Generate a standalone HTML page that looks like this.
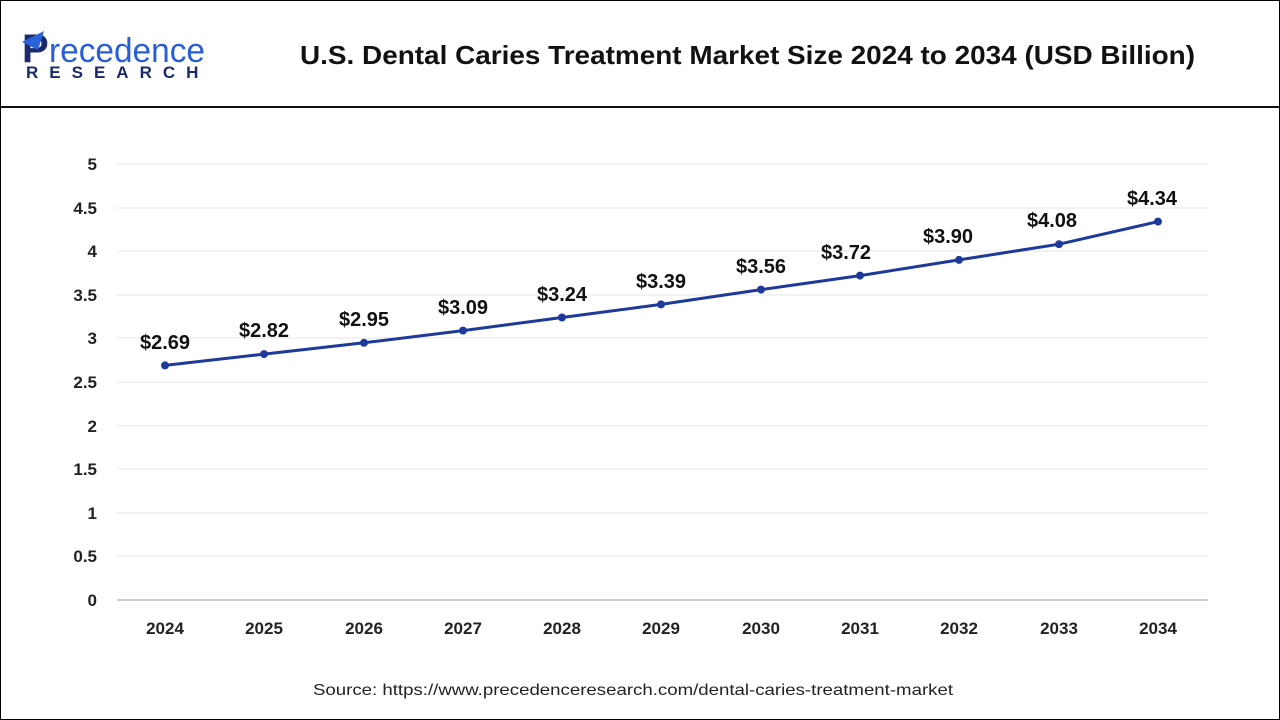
<!DOCTYPE html>
<html><head><meta charset="utf-8"><style>
body{margin:0;background:#fff;}
.wrap{position:relative;width:1278px;height:718px;border:1px solid #000;overflow:hidden;font-family:"Liberation Sans",Arial,sans-serif;}
</style></head><body><div class="wrap">
<svg width="1278" height="718" viewBox="1 1 1278 718" style="position:absolute;left:0;top:0">
<text x="22" y="62" font-size="40" font-weight="bold" fill="#1a2a6c" font-family="Liberation Sans">P</text>
<path d="M22 42 L44 31 L38 50 Z" fill="#2a62d8"/>
<text x="49" y="62" font-size="34" fill="#2a5ed6" font-family="Liberation Sans" textLength="156" lengthAdjust="spacingAndGlyphs">recedence</text>
<text x="26" y="78" font-size="17" font-weight="bold" fill="#1a2a6c" letter-spacing="11" font-family="Liberation Sans">RESEARCH</text>
<text x="300" y="64" font-size="26" font-weight="bold" fill="#111" textLength="895" lengthAdjust="spacingAndGlyphs">U.S. Dental Caries Treatment Market Size 2024 to 2034 (USD Billion)</text>
<line x1="0" y1="107" x2="1280" y2="107" stroke="#111" stroke-width="2"/>
<g stroke="#e6e6e6" stroke-width="1">
<line x1="117" x2="1208" y1="164" y2="164"/><line x1="117" x2="1208" y1="208" y2="208"/>
<line x1="117" x2="1208" y1="251" y2="251"/><line x1="117" x2="1208" y1="295" y2="295"/>
<line x1="117" x2="1208" y1="338" y2="338"/><line x1="117" x2="1208" y1="382" y2="382"/>
<line x1="117" x2="1208" y1="426" y2="426"/><line x1="117" x2="1208" y1="469" y2="469"/>
<line x1="117" x2="1208" y1="513" y2="513"/><line x1="117" x2="1208" y1="556" y2="556"/>
</g>
<line x1="117" x2="1208" y1="600" y2="600" stroke="#bbb" stroke-width="1.5"/>
<g font-size="17" font-weight="bold" fill="#222" text-anchor="end">
<text x="97" y="170">5</text><text x="97" y="214">4.5</text><text x="97" y="257">4</text>
<text x="97" y="301">3.5</text><text x="97" y="344">3</text><text x="97" y="388">2.5</text>
<text x="97" y="432">2</text><text x="97" y="475">1.5</text><text x="97" y="519">1</text>
<text x="97" y="562">0.5</text><text x="97" y="606">0</text>
</g>
<g font-size="17" font-weight="bold" fill="#222" text-anchor="middle">
<text x="165" y="634">2024</text><text x="264" y="634">2025</text><text x="364" y="634">2026</text>
<text x="463" y="634">2027</text><text x="562" y="634">2028</text><text x="661" y="634">2029</text>
<text x="761" y="634">2030</text><text x="860" y="634">2031</text><text x="959" y="634">2032</text>
<text x="1059" y="634">2033</text><text x="1158" y="634">2034</text>
</g>
<polyline fill="none" stroke="#1d3a9a" stroke-width="3" points="165,365.4 264,354.1 364,342.8 463,330.6 562,317.5 661,304.4 761,289.6 860,275.6 959,259.9 1059,244.2 1158,221.6"/>
<g fill="#1d3a9a">
<circle cx="165" cy="365.4" r="4"/><circle cx="264" cy="354.1" r="4"/><circle cx="364" cy="342.8" r="4"/>
<circle cx="463" cy="330.6" r="4"/><circle cx="562" cy="317.5" r="4"/><circle cx="661" cy="304.4" r="4"/>
<circle cx="761" cy="289.6" r="4"/><circle cx="860" cy="275.6" r="4"/><circle cx="959" cy="259.9" r="4"/>
<circle cx="1059" cy="244.2" r="4"/><circle cx="1158" cy="221.6" r="4"/>
</g>
<g font-size="20" font-weight="bold" fill="#111" text-anchor="middle">
<text x="165" y="349">$2.69</text><text x="264" y="337">$2.82</text><text x="364" y="326">$2.95</text>
<text x="463" y="314">$3.09</text><text x="562" y="301">$3.24</text><text x="661" y="288">$3.39</text>
<text x="761" y="273">$3.56</text><text x="846" y="259">$3.72</text><text x="948" y="243">$3.90</text>
<text x="1052" y="227">$4.08</text><text x="1152" y="205">$4.34</text>
</g>
<text x="313" y="695" font-size="16" fill="#222" textLength="640" lengthAdjust="spacingAndGlyphs">Source: https://www.precedenceresearch.com/dental-caries-treatment-market</text>
</svg>
</div></body></html>
